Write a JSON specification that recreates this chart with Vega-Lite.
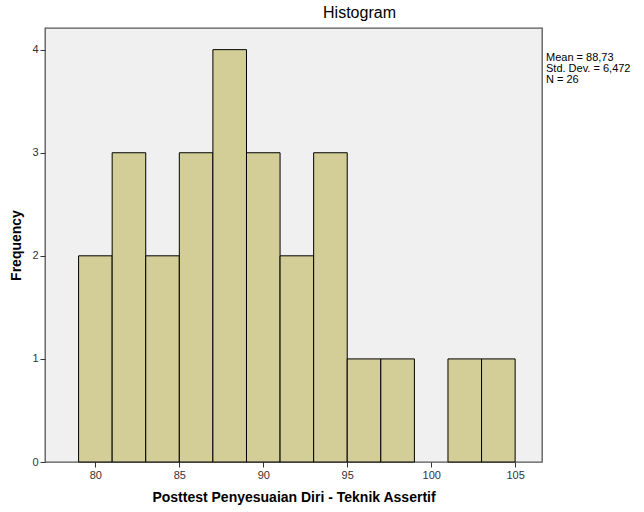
{
  "$schema": "https://vega.github.io/schema/vega-lite/v6.json",
  "autosize": {"type": "none"},
  "padding": {"left": 45, "top": 28, "right": 102, "bottom": 50},
  "width": 497,
  "height": 434,
  "background": "white",
  "title": {"text": "Histogram", "anchor": "middle", "dx": 66, "offset": 7, "fontSize": 16, "fontWeight": "normal", "font": "Liberation Sans", "color": "#000"},
  "config": {
    "view": {"fill": "#F0F0F0", "stroke": "#555555", "strokeWidth": 1.3},
    "axis": {"grid": false, "domain": false, "labelFont": "Liberation Sans", "titleFont": "Liberation Sans", "labelColor": "#333", "tickColor": "#333", "labelFontSize": 11, "titleFontSize": 14, "titleFontWeight": "bold", "titleColor": "#000", "tickSize": 5}
  },
  "layer": [
    {
      "data": {"values": [
        {"bin_start": 79, "bin_end": 81, "count": 2},
        {"bin_start": 81, "bin_end": 83, "count": 3},
        {"bin_start": 83, "bin_end": 85, "count": 2},
        {"bin_start": 85, "bin_end": 87, "count": 3},
        {"bin_start": 87, "bin_end": 89, "count": 4},
        {"bin_start": 89, "bin_end": 91, "count": 3},
        {"bin_start": 91, "bin_end": 93, "count": 2},
        {"bin_start": 93, "bin_end": 95, "count": 3},
        {"bin_start": 95, "bin_end": 97, "count": 1},
        {"bin_start": 97, "bin_end": 99, "count": 1},
        {"bin_start": 99, "bin_end": 101, "count": 0},
        {"bin_start": 101, "bin_end": 103, "count": 1},
        {"bin_start": 103, "bin_end": 105, "count": 1}
      ]},
      "mark": {"type": "rect", "fill": "#D3CE97", "stroke": "#000", "strokeWidth": 1},
      "transform": [{"filter": "datum.count > 0"}],
      "encoding": {
        "x": {"field": "bin_start", "type": "quantitative", "scale": {"domain": [77, 106.6], "nice": false, "zero": false},
              "axis": {"values": [80, 85, 90, 95, 100, 105], "title": "Posttest Penyesuaian Diri - Teknik Assertif", "labelPadding": 2, "titlePadding": 10}},
        "x2": {"field": "bin_end"},
        "y": {"field": "count", "type": "quantitative", "scale": {"domain": [0, 4.21], "nice": false},
              "axis": {"values": [0, 1, 2, 3, 4], "format": "d", "title": "Frequency", "labelPadding": 2, "titlePadding": 8}},
        "y2": {"datum": 0}
      }
    },
    {
      "data": {"values": [{"stats": "Mean = 88,73\nStd. Dev. = 6,472\nN = 26"}]},
      "mark": {"type": "text", "align": "left", "baseline": "top", "lineBreak": "\n", "font": "Liberation Sans", "fontSize": 11, "lineHeight": 11, "fill": "#000", "dx": 4},
      "encoding": {
        "x": {"datum": 106.6, "type": "quantitative"},
        "y": {"datum": 3.98, "type": "quantitative"},
        "text": {"field": "stats"}
      }
    }
  ]
}
